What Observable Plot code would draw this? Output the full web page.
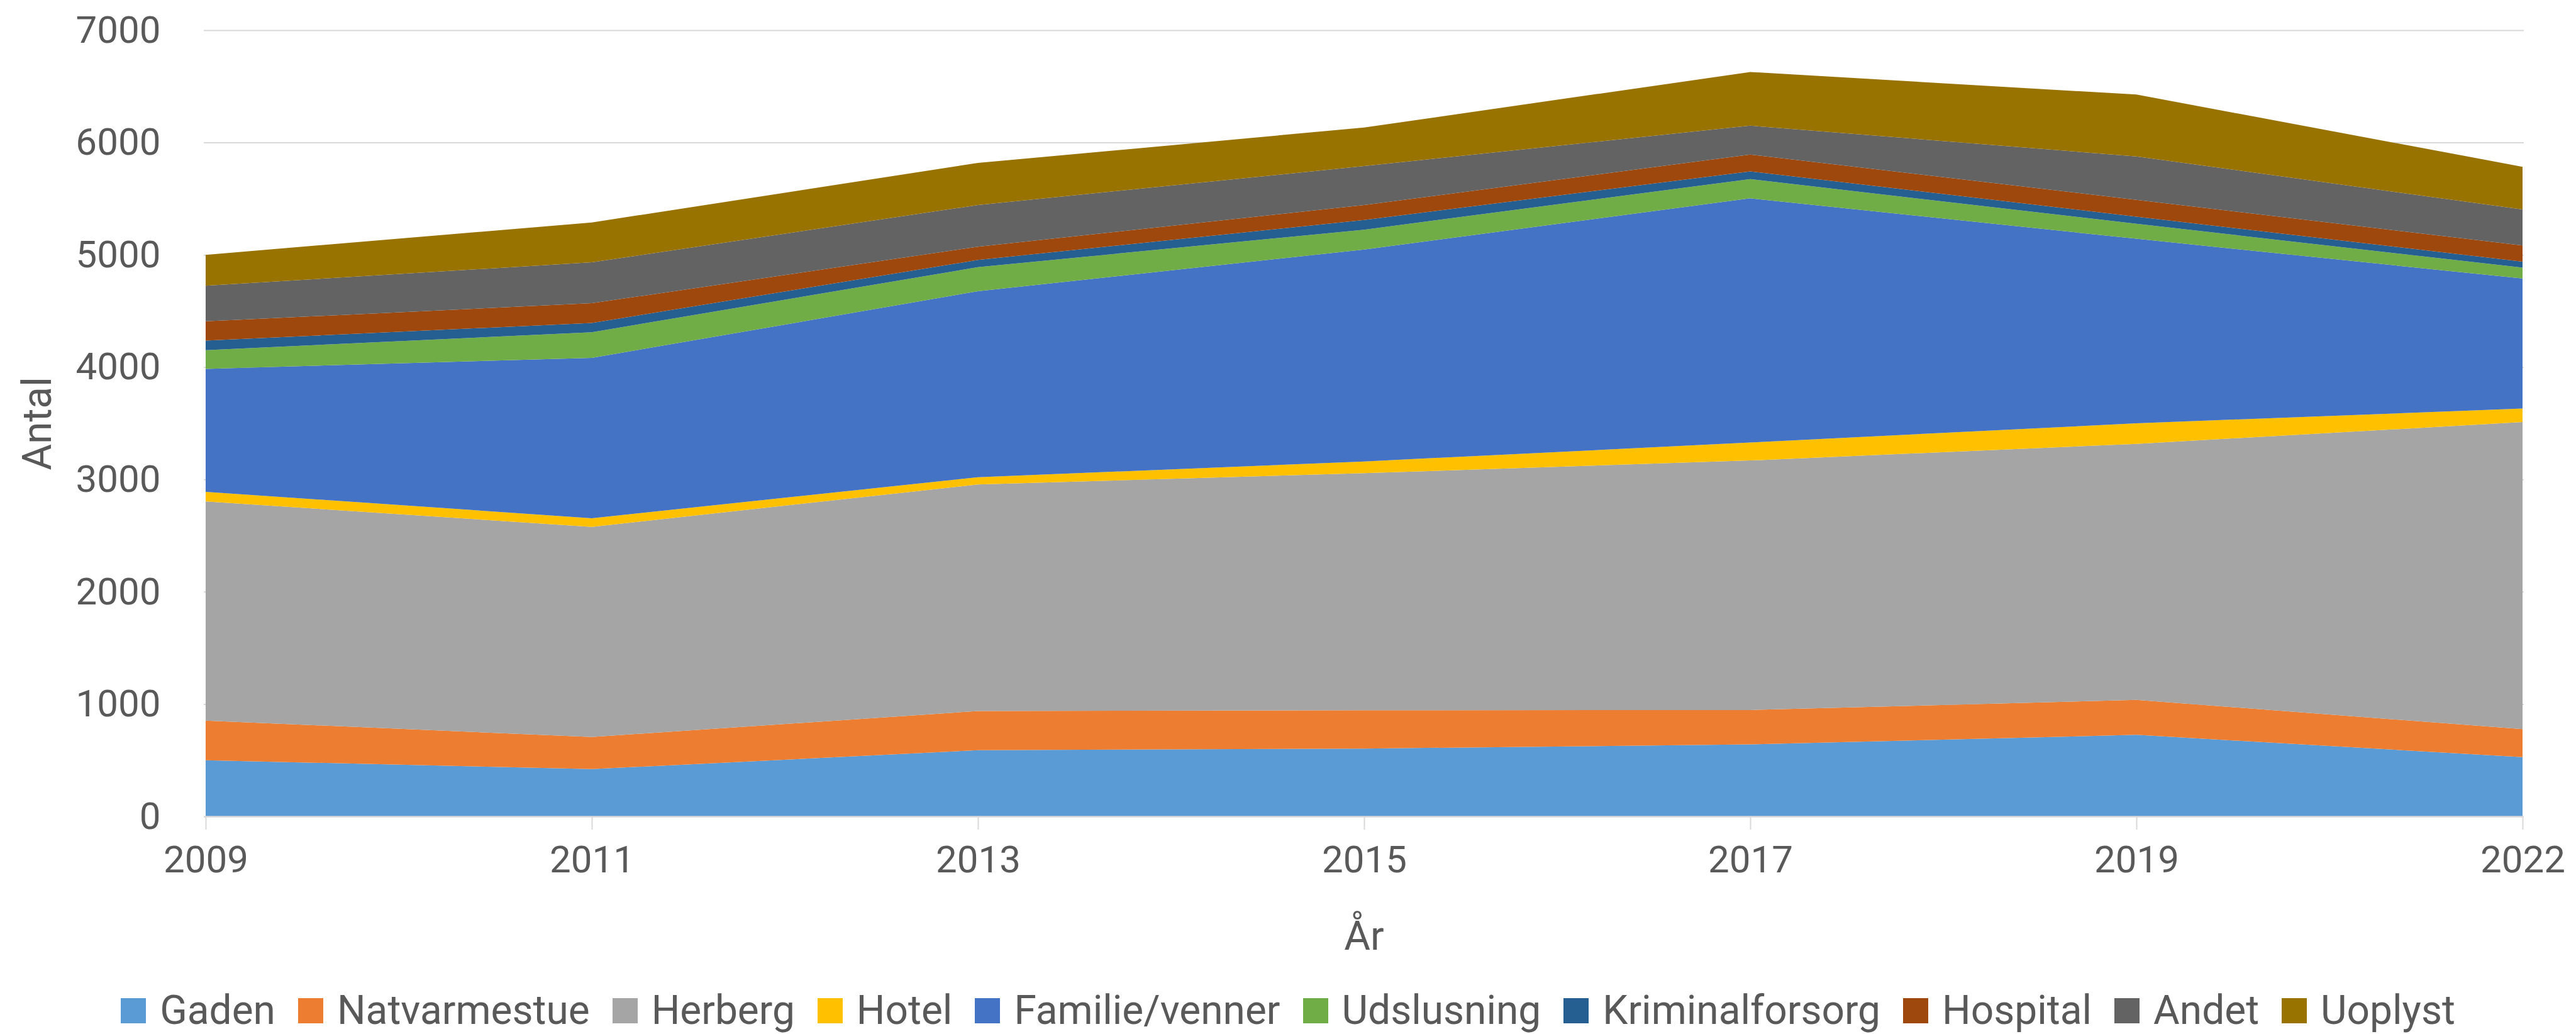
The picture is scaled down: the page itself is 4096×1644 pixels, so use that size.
<!DOCTYPE html>
<html><head><meta charset="utf-8">
<script src="https://cdn.jsdelivr.net/npm/d3@7"></script>
<script src="https://cdn.jsdelivr.net/npm/@observablehq/plot@0.6"></script>
<style>
html,body{margin:0;padding:0;background:#fff;}
#chart{width:4096px;height:1644px;position:relative;overflow:hidden;font-family:Roboto,sans-serif;background:#fff;}
#legend{display:flex;justify-content:center;align-items:center;height:70px;margin-top:12px;font-size:64px;line-height:1;color:#595959;font-family:Roboto,sans-serif;white-space:nowrap;}
#legend .item{display:flex;align-items:center;margin:0 18px;}
#legend .sw{width:40px;height:40px;margin-right:22px;display:inline-block;}
</style></head><body><div id="chart"></div>
<script>
const years = ["2009","2011","2013","2015","2017","2019","2022"];
const seriesNames = ["Gaden","Natvarmestue","Herberg","Hotel","Familie/venner","Udslusning","Kriminalforsorg","Hospital","Andet","Uoplyst"];
const colors = ["#5B9BD5","#ED7D31","#A5A5A5","#FFC000","#4472C4","#70AD47","#255E91","#9E480E","#636363","#997300"];
const yTicks = [0,1000,2000,3000,4000,5000,6000,7000];

const gaden          = [500, 421, 589, 604, 641, 726, 528];
const natvarmestue   = [353, 286, 349, 341, 306, 311, 249];
const herberg        = [1951, 1871, 2017, 2111, 2222, 2280, 2734];
const hotel          = [86, 77, 65, 104, 160, 183, 120];
const familieVenner  = [1095, 1427, 1656, 1887, 2174, 1643, 1158];
const udslusning     = [166, 229, 214, 177, 171, 133, 97];
const kriminalforsorg= [85, 82, 64, 86, 69, 64, 53];
const hospital       = [172, 176, 118, 133, 150, 150, 144];
const andet          = [317, 364, 371, 347, 257, 386, 321];
const uoplyst        = [275, 355, 375, 343, 478, 551, 380];

const seriesValues = [gaden, natvarmestue, herberg, hotel, familieVenner, udslusning, kriminalforsorg, hospital, andet, uoplyst];
const table = [];
seriesNames.forEach((s, i) => years.forEach((y, j) => table.push({year: y, series: s, value: seriesValues[i][j]})));

const W = 4096, H = 1560, ML = 324, MR = 83, MT = 48, MB = 262;
const txt = "#595959", grid = "#d9d9d9";

const plot = Plot.plot({
  width: W, height: H,
  marginLeft: ML, marginRight: MR, marginTop: MT, marginBottom: MB,
  style: {fontFamily: "Roboto, sans-serif", fontSize: "60px", color: txt, background: "white"},
  x: {type: "point", domain: years, padding: 0},
  y: {domain: [0, 7000]},
  color: {domain: seriesNames, range: colors},
  marks: [
    Plot.ruleY(yTicks.filter(t => t > 0), {stroke: grid, strokeWidth: 2}),
    Plot.areaY(table, Plot.stackY({x: "year", y: "value", z: "series", fill: "series", order: seriesNames})),
    Plot.ruleY([0], {stroke: grid, strokeWidth: 2.5}),
    Plot.axisX({tickSize: 21, tickPadding: 25, stroke: grid, strokeWidth: 2, fill: txt, label: null, fontSize: 60}),
    Plot.axisY({ticks: yTicks, tickSize: 0, tickPadding: 69, label: null, tickFormat: d => String(d), fill: txt, fontSize: 60}),
    Plot.text(["Antal"], {text: d => d, frameAnchor: "left", dx: -264, rotate: -90, textAnchor: "middle", lineAnchor: "middle", fontSize: 64, fill: txt}),
    Plot.text(["År"], {text: d => d, frameAnchor: "bottom", dy: 191, textAnchor: "middle", lineAnchor: "middle", fontSize: 64, fill: txt})
  ]
});

const chart = document.getElementById("chart");
chart.appendChild(plot);

const legend = document.createElement("div");
legend.id = "legend";
seriesNames.forEach((s, i) => {
  const item = document.createElement("div");
  item.className = "item";
  const sw = document.createElement("span");
  sw.className = "sw";
  sw.style.background = colors[i];
  const label = document.createElement("span");
  label.textContent = s;
  item.appendChild(sw);
  item.appendChild(label);
  legend.appendChild(item);
});
chart.appendChild(legend);
</script>
</body></html>
